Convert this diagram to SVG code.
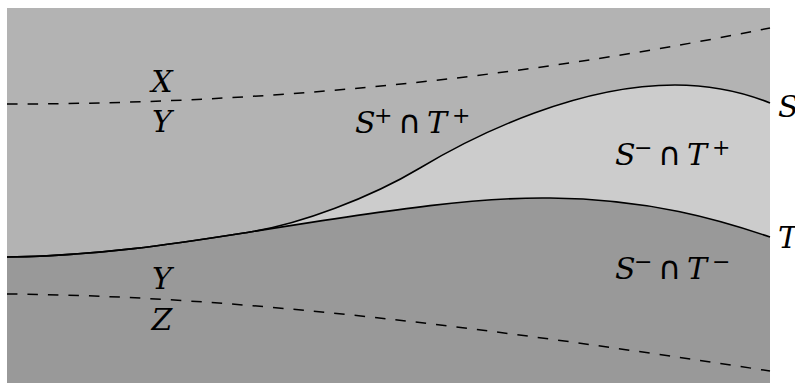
<svg xmlns="http://www.w3.org/2000/svg" width="795" height="385" viewBox="0 0 795 385">
<style>
.lbl{font-family:"DejaVu Serif",serif;font-style:italic;font-size:30px;fill:#000}
.sup{font-family:"DejaVu Serif",serif;font-size:22px;font-style:normal}
.cap{font-family:"DejaVu Sans",sans-serif;font-style:normal;font-size:32px}
.curve{fill:none;stroke:#000;stroke-width:1.6}
.dash{fill:none;stroke:#000;stroke-width:1.5;stroke-dasharray:10.5 10}
</style>
<rect x="0" y="0" width="795" height="385" fill="#fff"/>
<g id="regions">
<rect id="top" x="7" y="8" width="763" height="375" fill="#b3b3b3"/>
<path id="lens" d="M7,257 C100,256 180,243 250,232 C300,224 370,198 420,168 C480,132 580,85 675,85 C720,85 750,95 770,103 L770,383 L7,383 Z" fill="#cccccc"/>
<path id="bottom" d="M7,257 C100,256 180,243 250,232 C400,208 480,197 550,198 C650,199 720,220 770,237 L770,383 L7,383 Z" fill="#999999"/>
</g>
<g id="connectors">
<path id="S" class="curve" d="M7,257 C100,256 180,243 250,232 C300,224 370,198 420,168 C480,132 580,85 675,85 C720,85 750,95 770,103"/>
<path id="T" class="curve" d="M7,257 C100,256 180,243 250,232 C400,208 480,197 550,198 C650,199 720,220 770,237"/>
<path id="XY" class="dash" d="M7,104 C300,104 550,72 770,28"/>
<path id="YZ" class="dash" d="M7,294 C250,296 500,330 770,371"/>
</g>
<g id="labels" class="lbl">
<text x="162" y="92" text-anchor="middle">X</text>
<text x="162" y="132" text-anchor="middle">Y</text>
<text x="162" y="289" text-anchor="middle">Y</text>
<text x="162" y="330" text-anchor="middle">Z</text>
<text x="778" y="117">S</text>
<text x="778" y="248">T</text>
<text y="133"><tspan x="355">S</tspan><tspan class="sup" x="374" y="123">+</tspan><tspan class="cap" x="398" y="133">∩</tspan><tspan x="427">T</tspan><tspan class="sup" x="452" y="123">+</tspan></text>
<text y="165"><tspan x="615">S</tspan><tspan class="sup" x="634" y="155">−</tspan><tspan class="cap" x="658" y="165">∩</tspan><tspan x="687">T</tspan><tspan class="sup" x="712" y="155">+</tspan></text>
<text y="279"><tspan x="615">S</tspan><tspan class="sup" x="634" y="269">−</tspan><tspan class="cap" x="658" y="279">∩</tspan><tspan x="687">T</tspan><tspan class="sup" x="712" y="269">−</tspan></text>
</g>
</svg>
